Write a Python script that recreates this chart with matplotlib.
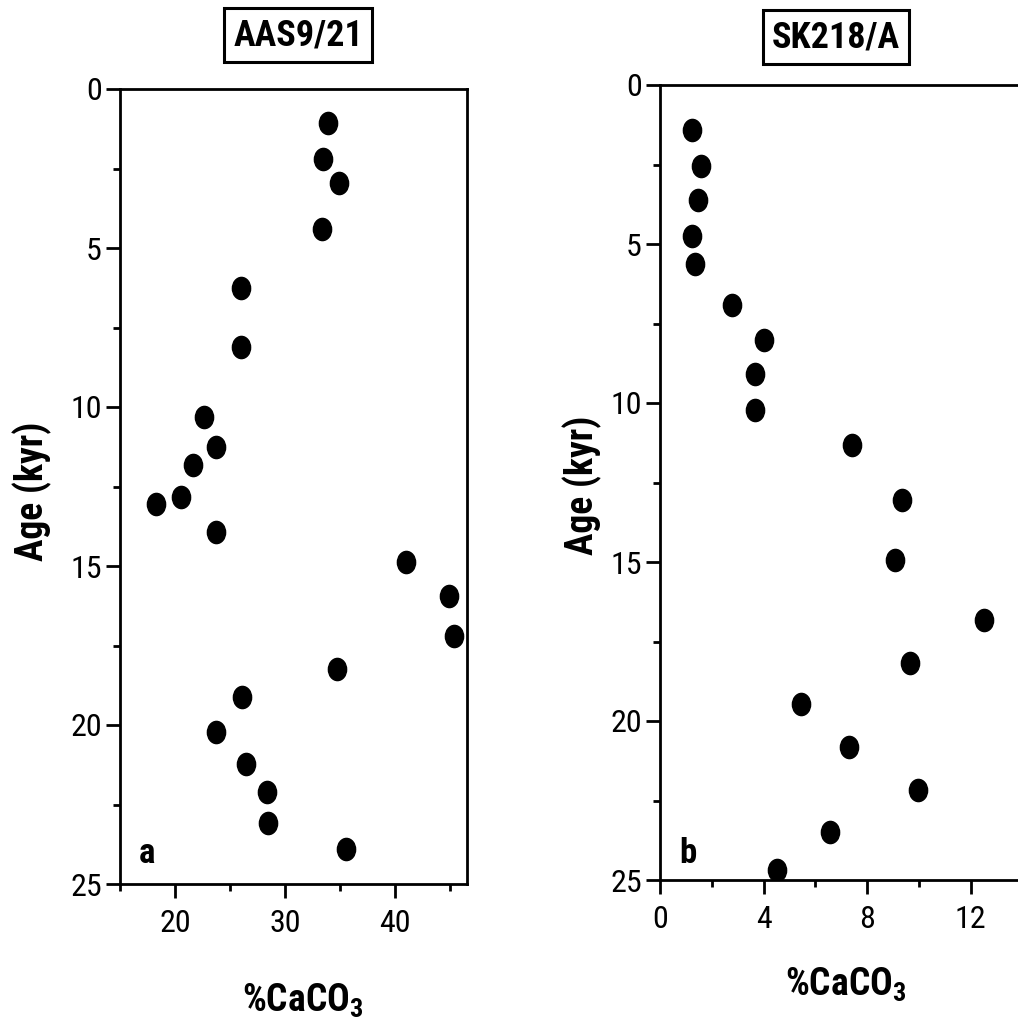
import matplotlib
matplotlib.use("Agg")
import matplotlib.pyplot as plt
from matplotlib.path import Path
from matplotlib.transforms import Affine2D
from matplotlib.ticker import MultipleLocator

# core AAS9/21 (panel a)
aas_caco3 = [33.9, 33.4, 34.85, 33.3, 26.0, 26.0, 22.6, 23.75, 21.6, 18.26, 20.5,
             23.67, 41.0, 44.9, 45.3, 34.7, 26.1, 23.67, 26.4, 28.3, 28.4, 35.55]
aas_age = [1.08, 2.2, 2.97, 4.41, 6.27, 8.12, 10.33, 11.25, 11.82, 13.06, 12.84,
           13.94, 14.86, 15.93, 17.19, 18.24, 19.13, 20.23, 21.23, 22.1, 23.09, 23.9]

# core SK218/A (panel b)
sk_caco3 = [1.23, 1.58, 1.48, 1.23, 1.37, 2.77, 4.01, 3.65, 3.67, 7.42, 9.35,
            9.07, 12.52, 9.65, 5.43, 7.29, 9.95, 6.58, 4.5]
sk_age = [1.42, 2.55, 3.62, 4.74, 5.62, 6.92, 8.03, 9.1, 10.22, 11.32, 13.05,
          14.94, 16.82, 18.17, 19.47, 20.81, 22.17, 23.5, 24.69]

fam = 'Roboto Condensed'
plt.rcParams['font.family'] = [fam, 'DejaVu Sans']
plt.rcParams['mathtext.fontset'] = 'custom'
plt.rcParams['mathtext.rm'] = fam + ':bold'
plt.rcParams['mathtext.bf'] = fam + ':bold'

W, H = 1018, 1025
fig = plt.figure(figsize=(W / 100, H / 100), dpi=100)

# slightly tall dots, as in the scan
dot = Path.unit_circle().transformed(Affine2D().scale(0.82, 1.0))


def px_axes(x0, x1, y0, y1):
    return fig.add_axes([x0 / W, 1 - y1 / H, (x1 - x0) / W, (y1 - y0) / H])


def style(ax):
    for s in ax.spines.values():
        s.set_linewidth(2)
    ax.tick_params(which='major', direction='out', length=10, width=2,
                   labelsize=23, pad=3)
    ax.tick_params(which='minor', direction='out', length=5, width=2)
    ax.tick_params(axis='x', which='major', pad=8)
    ax.yaxis.set_major_locator(MultipleLocator(5))
    ax.yaxis.set_minor_locator(MultipleLocator(2.5))


# panel a
ax1 = px_axes(120, 467, 89, 884)
ax1.plot(aas_caco3, aas_age, linestyle='none', marker=dot, color='black', ms=16)
ax1.set_xlim(15, 46.5)
ax1.set_ylim(25, 0)
ax1.xaxis.set_major_locator(MultipleLocator(10))
ax1.xaxis.set_minor_locator(MultipleLocator(5))
style(ax1)
ax1.text(0.055, 0.026, 'a', transform=ax1.transAxes, fontsize=25,
         fontweight='bold', ha='left', va='baseline')

# panel b
ax2 = px_axes(660, 660 + 14.6 * 25.9, 85, 880)
ax2.plot(sk_caco3, sk_age, linestyle='none', marker=dot, color='black', ms=16)
ax2.set_xlim(0, 14.6)
ax2.set_ylim(25, 0)
ax2.xaxis.set_major_locator(MultipleLocator(4))
ax2.xaxis.set_minor_locator(MultipleLocator(2))
style(ax2)
ax2.text(0.052, 0.021, 'b', transform=ax2.transAxes, fontsize=25,
         fontweight='bold', ha='left', va='baseline')

# titles in boxes
box = dict(boxstyle='square,pad=0.25', fc='white', ec='black', lw=2.2)
fig.text(298 / W, 1 - 35 / H, 'AAS9/21', fontsize=26, fontweight='bold',
         ha='center', va='center', bbox=box)
fig.text(836 / W, 1 - 37 / H, 'SK218/A', fontsize=26, fontweight='bold',
         ha='center', va='center', bbox=box)

# axis labels
fig.text(32 / W, 1 - 491 / H, 'Age (kyr)', fontsize=27, fontweight='bold',
         rotation=90, ha='center', va='center')
fig.text(582 / W, 1 - 485 / H, 'Age (kyr)', fontsize=27, fontweight='bold',
         rotation=90, ha='center', va='center')
fig.text(303 / W, 1 - 1012 / H, r'%CaCO$_3$', fontsize=27, fontweight='bold',
         ha='center', va='baseline')
fig.text(846 / W, 1 - 996 / H, r'%CaCO$_3$', fontsize=27, fontweight='bold',
         ha='center', va='baseline')

fig.savefig('out.png', dpi=100)
